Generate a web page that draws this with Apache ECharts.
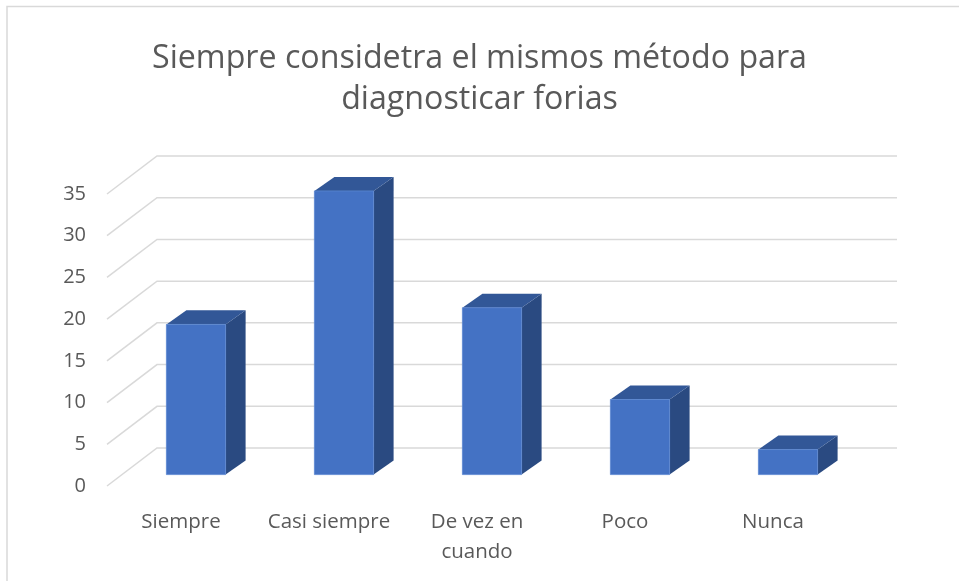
<!DOCTYPE html>
<html>
<head>
<meta charset="utf-8">
<script src="https://cdn.jsdelivr.net/npm/echarts@6/dist/echarts.min.js"></script>
<style>
  html, body { margin: 0; padding: 0; background: #fff; }
  #chart { width: 959px; height: 581px; }
</style>
</head>
<body>
<div id="chart"></div>
<script>
// datos del grafico
const categories = ['Siempre', 'Casi siempre', 'De vez en\ncuando', 'Poco', 'Nunca'];
const values = [18, 34, 20, 9, 3];
const yTicks = [0, 5, 10, 15, 20, 25, 30, 35];
const titleText = 'Siempre considetra el mismos método para\ndiagnosticar forias';

// profundidad 3D (pared del fondo)
const DEPTH_X = 50;
const DEPTH_Y = -38;

const chart = echarts.init(document.getElementById('chart'));

function renderGridLine(params, api) {
  const cs = params.coordSys;
  const y = api.coord([0, api.value(1)])[1];
  const x0 = cs.x;
  const bx = x0 + DEPTH_X;
  const by = y + DEPTH_Y;
  return {
    type: 'polyline',
    shape: { points: [[x0, y], [bx, by], [cs.x + cs.width + DEPTH_X, by]] },
    style: { stroke: '#d9d9d9', lineWidth: 1.5, fill: null },
    silent: true
  };
}

function renderBar(params, api) {
  const idx = api.value(0);
  const base = api.coord([idx, 0]);
  const top = api.coord([idx, api.value(1)]);
  const w = api.size([1, 0])[0] * 0.4;
  const fx = 0.3 * DEPTH_X, fy = 0.3 * DEPTH_Y;
  const dx = 0.4 * DEPTH_X, dy = 0.37 * DEPTH_Y;
  const l = base[0] - w / 2 + fx;
  const r = l + w;
  const b = base[1] + fy;
  const t = top[1] + fy;
  return {
    type: 'group',
    children: [
      {
        type: 'polygon',
        shape: { points: [[r, b], [r + dx, b + dy], [r + dx, t + dy], [r, t]] },
        style: { fill: '#2a4a81' }
      },
      {
        type: 'polygon',
        shape: { points: [[l, t], [l + dx, t + dy], [r + dx, t + dy], [r, t]] },
        style: { fill: '#325797' }
      },
      {
        type: 'rect',
        shape: { x: l, y: t, width: w, height: b - t },
        style: { fill: '#4472c4', stroke: '#5b86d0', lineWidth: 0.8 }
      }
    ]
  };
}

const option = {
  backgroundColor: '#fff',
  animation: false,
  title: {
    text: titleText,
    left: 'center',
    top: 33,
    textStyle: {
      fontFamily: 'Open Sans',
      fontSize: 32.2,
      fontWeight: 'normal',
      color: '#595959',
      lineHeight: 41
    }
  },
  graphic: [{
    type: 'rect',
    shape: { x: 7, y: 6.5, width: 1000, height: 1000 },
    style: { fill: null, stroke: '#d9d9d9', lineWidth: 1.5 },
    silent: true
  }],
  grid: { left: 107, right: 112, top: 194, bottom: 95 },
  xAxis: {
    type: 'category',
    data: categories,
    axisLine: { show: false },
    axisTick: { show: false },
    axisLabel: {
      margin: 21,
      interval: 0,
      fontFamily: 'Open Sans',
      fontSize: 20.5,
      color: '#595959',
      lineHeight: 30
    }
  },
  yAxis: {
    type: 'value',
    min: 0,
    max: 35,
    interval: 5,
    axisLine: { show: false },
    axisTick: { show: false },
    splitLine: { show: false },
    axisLabel: {
      margin: 21,
      fontFamily: 'Open Sans',
      fontSize: 20,
      color: '#595959'
    }
  },
  series: [
    {
      type: 'custom',
      renderItem: renderGridLine,
      data: yTicks.map(v => [0, v]),
      clip: false,
      z: 1,
      silent: true
    },
    {
      type: 'custom',
      renderItem: renderBar,
      data: values.map((v, i) => [i, v]),
      clip: false,
      z: 2
    }
  ]
};

chart.setOption(option);
</script>
</body>
</html>
